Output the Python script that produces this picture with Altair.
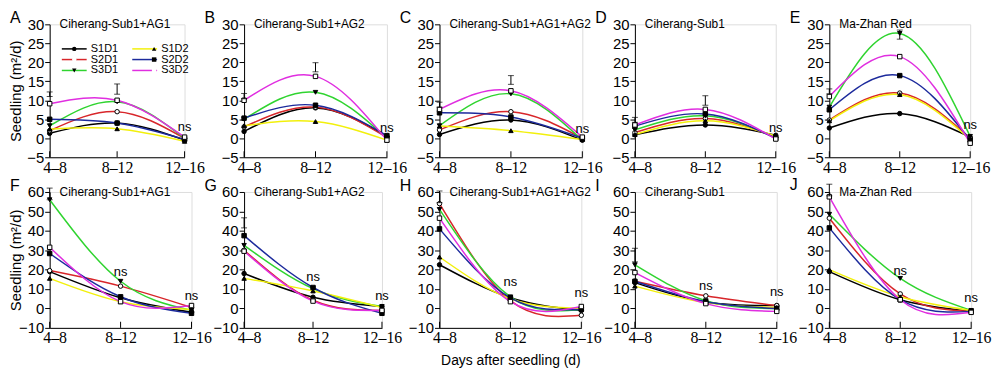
import altair as alt
import pandas as pd

categories = ["4–8", "8–12", "12–16"]
series = ["S1D1", "S2D1", "S3D1", "S1D2", "S2D2", "S3D2"]
line_colors = ["#000000", "#d8262a", "#2fd42f", "#f2f00c", "#1c2a9c", "#e02ee0"]
marker_shapes = ["circle", "circle", "triangle-down", "triangle-up", "square", "square"]
marker_fills = ["black", "white", "black", "black", "black", "white"]

letters = list("ABCDEFGHIJ")
cultivars = ["Ciherang-Sub1+AG1", "Ciherang-Sub1+AG2", "Ciherang-Sub1+AG1+AG2",
             "Ciherang-Sub1", "Ma-Zhan Red"] * 2

vals_A = {"S1D1": [1.3, 4.0, -0.5], "S2D1": [2.0, 7.0, 0.0], "S3D1": [3.3, 9.6, 0.0],
          "S1D2": [2.4, 2.5, -0.8], "S2D2": [5.0, 4.0, -0.3], "S3D2": [9.1, 10.0, 0.3]}
vals_B = {"S1D1": [1.8, 8.0, 0.5], "S2D1": [3.0, 8.2, 0.2], "S3D1": [5.0, 12.1, 0.0],
          "S1D2": [3.3, 4.4, -0.5], "S2D2": [5.3, 8.7, 0.7], "S3D2": [10.0, 16.3, -0.5]}
vals_C = {"S1D1": [1.0, 4.8, -0.5], "S2D1": [2.2, 7.0, 0.0], "S3D1": [3.3, 11.7, -0.5],
          "S1D2": [3.2, 2.0, -0.3], "S2D2": [6.7, 5.6, 0.0], "S3D2": [7.6, 12.5, 0.3]}
vals_D = {"S1D1": [0.9, 3.5, 0.8], "S2D1": [1.5, 5.2, 0.3], "S3D1": [2.2, 5.9, 0.2],
          "S1D2": [1.0, 4.6, 0.6], "S2D2": [3.2, 6.4, 0.0], "S3D2": [3.5, 7.6, -0.2]}
vals_E = {"S1D1": [2.7, 6.5, 0.3], "S2D1": [4.8, 11.9, 0.0], "S3D1": [8.2, 27.6, 0.5],
          "S1D2": [4.6, 11.5, -0.3], "S2D2": [7.5, 16.5, -0.5], "S3D2": [11.0, 21.5, -1.3]}
vals_F = {"S1D1": [19.0, 5.5, -2.0], "S2D1": [19.5, 11.5, 0.5], "S3D1": [56.0, 14.0, -1.0],
          "S1D2": [15.5, 3.5, -0.5], "S2D2": [28.3, 6.0, -2.5], "S3D2": [31.5, 3.5, 1.5]}
vals_G = {"S1D1": [18.0, 5.8, 1.0], "S2D1": [30.0, 4.2, -1.0], "S3D1": [32.5, 10.2, 1.0],
          "S1D2": [15.5, 9.0, 0.5], "S2D2": [37.5, 10.8, -2.5], "S3D2": [29.5, 3.8, -1.0]}
vals_H = {"S1D1": [22.5, 5.5, -1.0], "S2D1": [54.0, 4.0, -3.5], "S3D1": [51.0, 6.0, -0.5],
          "S1D2": [26.5, 5.0, 0.0], "S2D2": [41.0, 5.5, -0.5], "S3D2": [46.5, 3.5, 1.0]}
vals_I = {"S1D1": [13.3, 3.3, 1.5], "S2D1": [14.0, 6.5, 1.5], "S3D1": [22.5, 4.0, 0.0],
          "S1D2": [11.5, 3.0, 0.5], "S2D2": [14.0, 3.5, 0.0], "S3D2": [18.5, 2.5, -1.5]}
vals_J = {"S1D1": [19.0, 4.5, -1.5], "S2D1": [46.5, 7.5, -1.5], "S3D1": [48.5, 15.5, -1.0],
          "S1D2": [20.0, 6.0, -1.0], "S2D2": [41.5, 4.5, -1.5], "S3D2": [57.5, 4.5, -2.0]}
panel_values = [vals_A, vals_B, vals_C, vals_D, vals_E, vals_F, vals_G, vals_H, vals_I, vals_J]

err_panel = ["A", "A", "B", "B", "C", "C", "D", "D", "E", "E", "F", "G", "H", "I", "J"]
err_x = ["4–8", "8–12"] * 5 + ["4–8"] * 5
err_lo = [11.0, 11.6, 10.4, 17.5, 8.2, 14.2, 4.2, 8.7, 11.7, 26.1, 56.0, 41.5, 54.5, 24.0, 58.0]
err_hi = [12.2, 14.3, 11.8, 19.9, 9.5, 16.5, 5.5, 11.2, 13.0, 28.5, 62.0, 46.7, 60.5, 31.0, 64.0]

ns_panel = ["A", "B", "C", "D", "E", "F", "F", "G", "G", "H", "H", "I", "I", "J", "J"]
ns_x = ["12–16"] * 5 + ["8–12", "12–16"] * 5
ns_y = [2.9, 2.7, 2.4, 2.8, 3.4, 18.6, 6.6, 16.4, 6.6, 13.4, 8.2, 11.6, 8.5, 19.4, 5.3]

FONT = "Liberation Sans"
NARROW = "Liberation Sans Narrow"

m_order = ["m" + s for s in series]
widths = [136, 144, 144, 142, 142, 143, 139, 143, 143, 143]

err_df = pd.DataFrame({"panel": err_panel, "x": err_x, "lo": err_lo, "hi": err_hi})
ns_df = pd.DataFrame({"panel": ns_panel, "x": ns_x, "y": ns_y})


def make_panel(i):
    letter = letters[i]
    top = i < 5
    ymin, ymax, step = (-5, 30, 5) if top else (-10, 60, 10)
    h = 134 if top else 137
    vals = panel_values[i]
    rows = []
    for s in series:
        for c, v in zip(categories, vals[s]):
            rows.append({"x": c, "y": v, "series": s, "mser": "m" + s})
    df = pd.DataFrame(rows)

    x_axis = alt.Axis(
        title="Days after seedling (d)" if letter == "H" else None,
        ticks=False, labelAngle=0, labelFont=NARROW, labelFontSize=16,
        labelPadding=2, titleFontSize=14, titleFont=FONT, titleFontWeight="normal",
        titlePadding=8,
        labelOffset={"condition": {"test": "datum.value === '4–8'", "value": 5}, "value": 0},
    )
    X = alt.X("x:N", scale=alt.Scale(type="point", domain=categories, padding=0), axis=x_axis)
    y_title = "Seedling (m²/d)" if letter in ("A", "F") else None
    y_axis = alt.Axis(
        values=list(range(ymin, ymax + 1, step)), tickSize=5, labelPadding=1,
        labelFontSize=15, labelFont=FONT, grid=False, title=y_title, labelOverlap=False,
        titleFontSize=15, titleFont=FONT, titleFontWeight="normal",
        titleX=-26, titleY=h / 2,
    )
    ysc = alt.Scale(domain=[ymin, ymax], nice=False, zero=False)
    Y = alt.Y("y:Q", scale=ysc, axis=y_axis)

    if i == 0:
        common = dict(title=None, orient="none", legendX=9, legendY=19, columns=2,
                      symbolSize=20, labelFontSize=11, labelFont=FONT, labelColor="black",
                      labelOffset=21.5, rowPadding=-2, padding=0)
        leg_c = alt.Legend(symbolType="M-1,0H10.2", symbolStrokeWidth=1.5, zindex=1,
                           columnPadding=10, **common)
        leg_m = alt.Legend(symbolStrokeWidth=1, symbolStrokeColor="black", symbolOffset=10.3,
                           labelExpr="''", zindex=2, columnPadding=37.5, **common)
    else:
        leg_c = None
        leg_m = None

    base = alt.Chart(df)
    lines = base.mark_line(interpolate="natural", strokeWidth=1.5).encode(
        x=X, y=Y,
        color=alt.Color("series:N", scale=alt.Scale(domain=series, range=line_colors),
                        legend=leg_c),
    )
    points = base.mark_point(filled=True, size=20, stroke="black", strokeWidth=1,
                             opacity=1).encode(
        x=X, y=Y,
        shape=alt.Shape("mser:N", scale=alt.Scale(domain=m_order, range=marker_shapes),
                        legend=leg_m),
        fill=alt.Fill("mser:N", scale=alt.Scale(domain=m_order, range=marker_fills),
                      legend=leg_m),
    )
    xt = alt.Chart(pd.DataFrame({"x": categories})).mark_rule(color="black", strokeWidth=1).encode(
        x=X, y=alt.Y(datum=ymin, scale=ysc, axis=y_axis),
        y2=alt.datum(ymin + 0.045 * (ymax - ymin)))

    e = err_df[err_df.panel == letter]
    layers = [xt, lines, points]
    if len(e):
        eb = alt.Chart(e)
        layers += [
            eb.mark_rule(color="black", strokeWidth=1).encode(
                x=X, y=alt.Y("lo:Q", scale=ysc, axis=y_axis), y2="hi:Q"),
            eb.mark_tick(color="black", size=6, thickness=1, orient="horizontal").encode(
                x=X, y=alt.Y("lo:Q", scale=ysc, axis=y_axis)),
            eb.mark_tick(color="black", size=6, thickness=1, orient="horizontal").encode(
                x=X, y=alt.Y("hi:Q", scale=ysc, axis=y_axis)),
        ]
    n = ns_df[ns_df.panel == letter]
    layers.append(alt.Chart(n).mark_text(text="ns", fontSize=13, font=FONT, color="black").encode(x=X, y=Y))
    name_df = pd.DataFrame({"x": [categories[0]], "y": [ymax]})
    layers.append(alt.Chart(name_df).mark_text(text=cultivars[i], align="left", dx=10,
                                               fontSize=12, font=FONT, color="black",
                                               baseline="middle").encode(x=X, y=Y))
    return alt.layer(*layers).properties(
        width=widths[i], height=h,
        title=alt.TitleParams(text=letter, anchor="start", frame="group", dx=-40, offset=-9,
                              fontSize=16, font=FONT, fontWeight="normal", color="black"),
    )


panels = [make_panel(i) for i in range(10)]
chart = alt.concat(*panels, columns=5, spacing={"row": 35, "column": 53}, bounds="flush").resolve_scale(
    color="independent", shape="independent", fill="independent"
).properties(
    padding={"left": 0, "top": 0, "right": 0, "bottom": 0}
).configure_view(stroke=None).configure(font=FONT).configure_axis(
    domainColor="black", tickColor="black", labelColor="black", titleColor="black",
    domainWidth=1, tickWidth=1, labelOverlap=False,
)

chart.save("out.html", embed_options={"renderer": "svg", "actions": False})
